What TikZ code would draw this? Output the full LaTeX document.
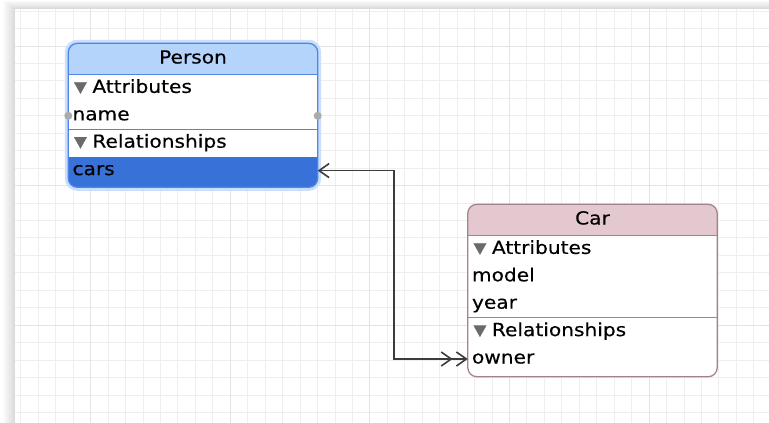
\documentclass[tikz,border=0pt]{standalone}
\usepackage{fontspec}
\setmainfont{DejaVu Sans}[FakeStretch=1.12,FakeBold=0.35]
\usetikzlibrary{positioning,arrows.meta,backgrounds}

\definecolor{personhead}{HTML}{B5D4FC}
\definecolor{personline}{HTML}{4F86E6}
\definecolor{personglow}{HTML}{C9DFFB}
\definecolor{selblue}{HTML}{3872D8}
\definecolor{carhead}{HTML}{E3C8D0}
\definecolor{carline}{HTML}{A4828F}
\definecolor{gridminor}{HTML}{EEEEEE}
\definecolor{gridmajor}{HTML}{E3E3E3}
\definecolor{trigrey}{HTML}{6A6A6A}
\definecolor{dotgrey}{HTML}{ABABAB}
\definecolor{connline}{HTML}{3C3C3C}

\newcommand{\tri}{\hspace*{1.5pt}\raisebox{1pt}{\color{trigrey}\fontsize{15}{15}\selectfont ▼}\hspace{5.5pt}}

\begin{document}
\begin{tikzpicture}[x=1pt,y=-1pt,
  head/.style={minimum width=249pt,minimum height=31pt,inner sep=0pt,
    text height=13pt,text depth=4pt,font=\fontsize{18}{20}\selectfont},
  row/.style={text width=241pt,inner xsep=4pt,inner ysep=0pt,minimum height=27pt,
    text height=13pt,text depth=4pt,align=left,font=\fontsize{18}{20}\selectfont},
  box/.style={line width=1.3pt,rounded corners=9pt},
  conn/.style={draw=connline,line width=1.6pt,
    arrows={Straight Barb[length=10pt,width=14pt]-Straight Barb[length=10pt,width=14pt,sep=3pt]Straight Barb[length=10pt,width=14pt]}}]

  \useasboundingbox (0,0) rectangle (769,423);

  \begin{scope}[on background layer]
    \foreach \s in {1,...,12}
      \fill[black,opacity=0.012] ({15-\s},{9-0.7*\s}) rectangle (769,423);
    \fill[white] (15,9) rectangle (769,423);
    \foreach \x in {20.9,38.35,...,769}
      \draw[gridminor,line width=1pt] (\x,9) -- (\x,423);
    \foreach \y in {11.1,28.55,...,423}
      \draw[gridminor,line width=1pt] (15,\y) -- (769,\y);
    \foreach \x in {90.7,230.3,...,769}
      \draw[gridmajor,line width=1pt] (\x,9) -- (\x,423);
    \foreach \y in {46,185.6,...,423}
      \draw[gridmajor,line width=1pt] (15,\y) -- (769,\y);
  \end{scope}

  \node[head] (person) at (193,59) {Person};
  \node[row] (pattr) [below=0pt of person] {\tri Attributes};
  \node[row] (pname) [below=0pt of pattr] {name};
  \node[row] (prel) [below=0pt of pname] {\tri Relationships};
  \node[row] (pcars) [below=0pt of prel] {cars};

  \node[head] (car) at (592.5,220) {Car};
  \node[row] (cattr) [below=0pt of car] {\tri Attributes};
  \node[row] (cmodel) [below=0pt of cattr] {model};
  \node[row] (cyear) [below=0pt of cmodel] {year};
  \node[row] (crel) [below=0pt of cyear] {\tri Relationships};
  \node[row] (cowner) [below=0pt of crel] {owner};

  \begin{scope}[on background layer]
    \draw[personglow,line width=7pt,rounded corners=9pt]
      (person.north west) rectangle ([yshift=-3pt]pcars.south east);
    \begin{scope}
      \clip[rounded corners=9pt] (person.north west) rectangle ([yshift=-3pt]pcars.south east);
      \fill[white] (person.north west) rectangle ([yshift=-3pt]pcars.south east);
      \fill[personhead] (person.north west) rectangle (person.south east);
      \fill[selblue] (pcars.north west) rectangle ([yshift=-3pt]pcars.south east);
    \end{scope}
    \begin{scope}
      \clip[rounded corners=9pt] (car.north west) rectangle ([yshift=-4pt]cowner.south east);
      \fill[white] (car.north west) rectangle ([yshift=-4pt]cowner.south east);
      \fill[carhead] (car.north west) rectangle (car.south east);
    \end{scope}
  \end{scope}

  \draw[box,personline] (person.north west) rectangle ([yshift=-3pt]pcars.south east);
  \draw[personline,line width=1pt] (person.south west) -- (person.south east)
    (pname.south west) -- (pname.south east);
  \fill[dotgrey] (pname.west) circle (4pt) (pname.east) circle (4pt);

  \draw[box,carline] (car.north west) rectangle ([yshift=-4pt]cowner.south east);
  \draw[carline,line width=1pt] (car.south west) -- (car.south east)
    (cyear.south west) -- (cyear.south east);

  \draw[conn] (pcars.east) -- ++(76,0) |- (cowner.west);

\end{tikzpicture}
\end{document}
